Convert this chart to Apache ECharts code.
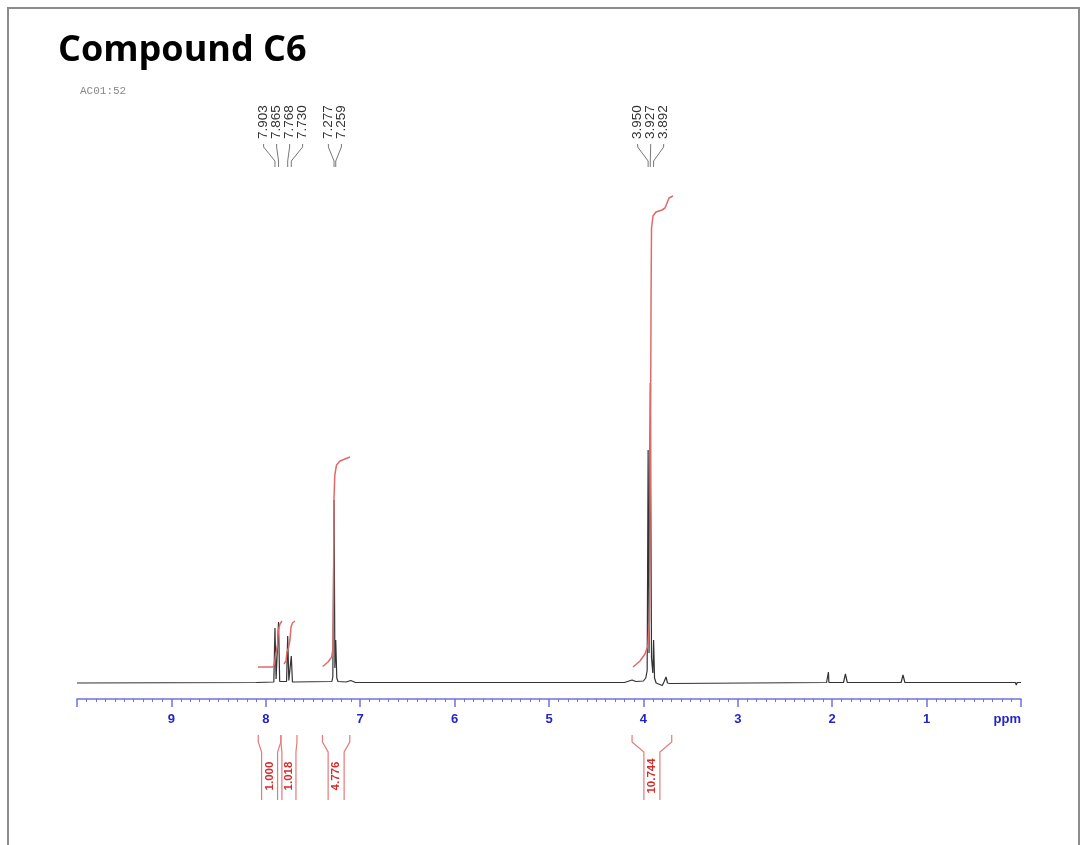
<!DOCTYPE html>
<html><head><meta charset="utf-8">
<script src="https://cdn.jsdelivr.net/npm/echarts@6/dist/echarts.min.js"></script>
<style>html,body{margin:0;padding:0;background:#fff}#c{width:1083px;height:845px}</style>
</head><body><div id="c"></div>
<script>
const titleText = 'Compound C6';
const subText = 'AC01:52';
const axisUnit = 'ppm';

// spectrum trace: [ppm, intensity]
const spectrum = [
  [10.0, 0.0], [8.10, 0.1], [7.915, 0.2], [7.903, 11.0], [7.891, 0.8], [7.877, 0.8], [7.865, 12.2], [7.853, 0.3],
  [7.780, 0.3], [7.768, 9.4], [7.756, 0.5], [7.742, 0.5], [7.730, 5.4], [7.718, 0.2],
  [7.300, 0.3], [7.290, 1.2], [7.277, 36.6], [7.268, 3.0], [7.259, 8.6], [7.248, 1.0], [7.235, 0.3],
  [7.15, 0.2], [7.10, 0.5], [7.05, 0.1],
  [4.20, 0.1], [4.12, 0.6], [4.08, 0.3], [4.00, 0.4], [3.975, 1.0], [3.960, 2.5], [3.950, 46.6], [3.940, 6.0],
  [3.927, 60.0], [3.914, 5.0], [3.900, 2.0], [3.892, 8.6], [3.882, 1.0], [3.865, 0.0], [3.80, -0.5], [3.78, 0.3],
  [3.76, 1.2], [3.745, 0.0], [3.72, -0.1],
  [2.06, 0.1], [2.045, 0.1], [2.04, 2.2], [2.035, 0.1], [2.02, 0.1],
  [1.88, 0.1], [1.86, 1.8], [1.84, 0.1],
  [1.27, 0.1], [1.25, 1.6], [1.23, 0.1],
  [0.90, 0.1], [0.88, 0.3], [0.86, 0.1],
  [0.06, 0.1], [0.05, -0.4], [0.04, 0.1], [0.0, 0.1]
];

// integral curves: [ppm, value]
const integral1 = [[8.083,3.2],[7.924,3.2],[7.908,3.8],[7.897,5.6],[7.887,6.4],[7.876,7.6],[7.866,10.6],[7.850,11.8],[7.828,12.4]];
const integral2 = [[7.807,3.8],[7.786,4.4],[7.776,6.2],[7.760,7.0],[7.744,8.6],[7.733,11.2],[7.717,12.0],[7.691,12.4]];
const integral3 = [[7.397,3.3],[7.341,4.2],[7.302,5.2],[7.288,7.0],[7.283,16.6],[7.278,36.6],[7.269,41.6],[7.251,43.6],[7.214,44.4],[7.161,44.8],[7.108,45.2]];
const integral4 = [[4.110,3.2],[4.036,4.4],[3.983,5.8],[3.951,7.6],[3.935,12.6],[3.925,46.6],[3.919,76.6],[3.914,91.0],[3.898,93.4],[3.867,94.2],[3.803,94.6],[3.771,95.0],[3.750,96.0],[3.729,97.0],[3.686,97.4]];

const peakLabelGroups = [
  ['7.903', '7.865', '7.768', '7.730'],
  ['7.277', '7.259'],
  ['3.950', '3.927', '3.892']
];

const integralRanges = [[8.08, 7.84], [7.84, 7.67], [7.40, 7.11], [4.12, 3.70]];
const integralLabels = ['1.000', '1.018', '4.776', '10.744'];

const chart = echarts.init(document.getElementById('c'), null, {renderer: 'canvas'});

const intStyle = {color: '#e06a6a', width: 1.5};
function integralSeries(d) {
  return {type: 'line', data: d, symbol: 'none', lineStyle: intStyle, z: 4, silent: true};
}

chart.setOption({
  animation: false,
  backgroundColor: '#fff',
  title: {
    text: titleText, left: 53, top: 28,
    textStyle: {fontFamily: '"Open Sans", sans-serif', fontWeight: 'bold', fontSize: 36, color: '#000'}
  },
  graphic: [
    {type: 'rect', shape: {x: 8, y: 8, width: 1071, height: 900}, style: {fill: null, stroke: '#8c8c8c', lineWidth: 2}, silent: true},
    {type: 'text', x: 80, y: 86, style: {text: subText, font: '11px "Liberation Mono", monospace', fill: '#888'}, silent: true}
  ],
  grid: {left: 77, right: 62, top: 183, bottom: 146},
  xAxis: {
    type: 'value', min: 0, max: 10, interval: 1, inverse: true,
    axisLine: {show: true, onZero: false, lineStyle: {color: '#7070e0', width: 1.5}},
    axisTick: {show: true, length: 8, lineStyle: {color: '#7070e0', width: 1.5}},
    minorTick: {show: true, splitNumber: 10, length: 3, lineStyle: {color: '#7070e0', width: 1}},
    splitLine: {show: false},
    axisLabel: {
      margin: 14, fontSize: 13, fontWeight: 'bold', color: '#2424c8', fontFamily: '"Liberation Sans", Arial, sans-serif',
      alignMinLabel: 'right',
      formatter: v => v === 0 ? axisUnit : (v === 10 ? '' : String(v))
    }
  },
  yAxis: {type: 'value', min: -3.2, max: 100, show: false, splitLine: {show: false}},
  series: [
    {type: 'line', data: spectrum, symbol: 'none', lineStyle: {color: '#333', width: 1.2}, z: 3, silent: true},
    integralSeries(integral1),
    integralSeries(integral2),
    integralSeries(integral3),
    integralSeries(integral4),
    {
      type: 'custom', coordinateSystem: 'cartesian2d', clip: false, silent: true, z: 6,
      data: peakLabelGroups.map((g, i) => [i, 0]),
      renderItem: function (params, api) {
        const g = peakLabelGroups[api.value(0)];
        const xs = g.map(t => api.coord([parseFloat(t), 0])[0]);
        const mean = xs.reduce((a, b) => a + b, 0) / xs.length;
        const step = 13;
        const children = [];
        g.forEach((t, k) => {
          const lx = mean + (k - (g.length - 1) / 2) * step;
          children.push({type: 'text', x: lx, y: 139, rotation: Math.PI / 2,
            style: {text: t, x: 0, y: 0, align: 'left', verticalAlign: 'middle', fill: '#333', font: '13.5px "Liberation Sans", Arial, sans-serif'}});
          children.push({type: 'polyline', shape: {points: [[lx, 144], [lx, 147], [xs[k], 161], [xs[k], 167]]},
            style: {stroke: '#777', lineWidth: 1, fill: null}});
        });
        return {type: 'group', children: children};
      }
    },
    {
      type: 'custom', coordinateSystem: 'cartesian2d', clip: false, silent: true, z: 6,
      data: integralRanges.map((r, i) => [i, 0]),
      renderItem: function (params, api) {
        const i = api.value(0);
        const r = integralRanges[i];
        const xL = api.coord([r[0], 0])[0];
        const xR = api.coord([r[1], 0])[0];
        const cx = (xL + xR) / 2;
        const ih = Math.min(8, (xR - xL) / 2 - 1);
        const ls = {stroke: '#e57a7a', lineWidth: 1.2, fill: null};
        return {type: 'group', children: [
          {type: 'polyline', shape: {points: [[xL, 735], [xL, 742], [cx - ih, 752], [cx - ih, 800]]}, style: ls},
          {type: 'polyline', shape: {points: [[xR, 735], [xR, 742], [cx + ih, 752], [cx + ih, 800]]}, style: ls},
          {type: 'text', x: cx, y: 776, rotation: Math.PI / 2,
            style: {text: integralLabels[i], x: 0, y: 0, align: 'center', verticalAlign: 'middle', fill: '#d42a2a', font: 'bold 11.5px "Liberation Sans", Arial, sans-serif'}}
        ]};
      }
    }
  ]
});
</script>
</body></html>
